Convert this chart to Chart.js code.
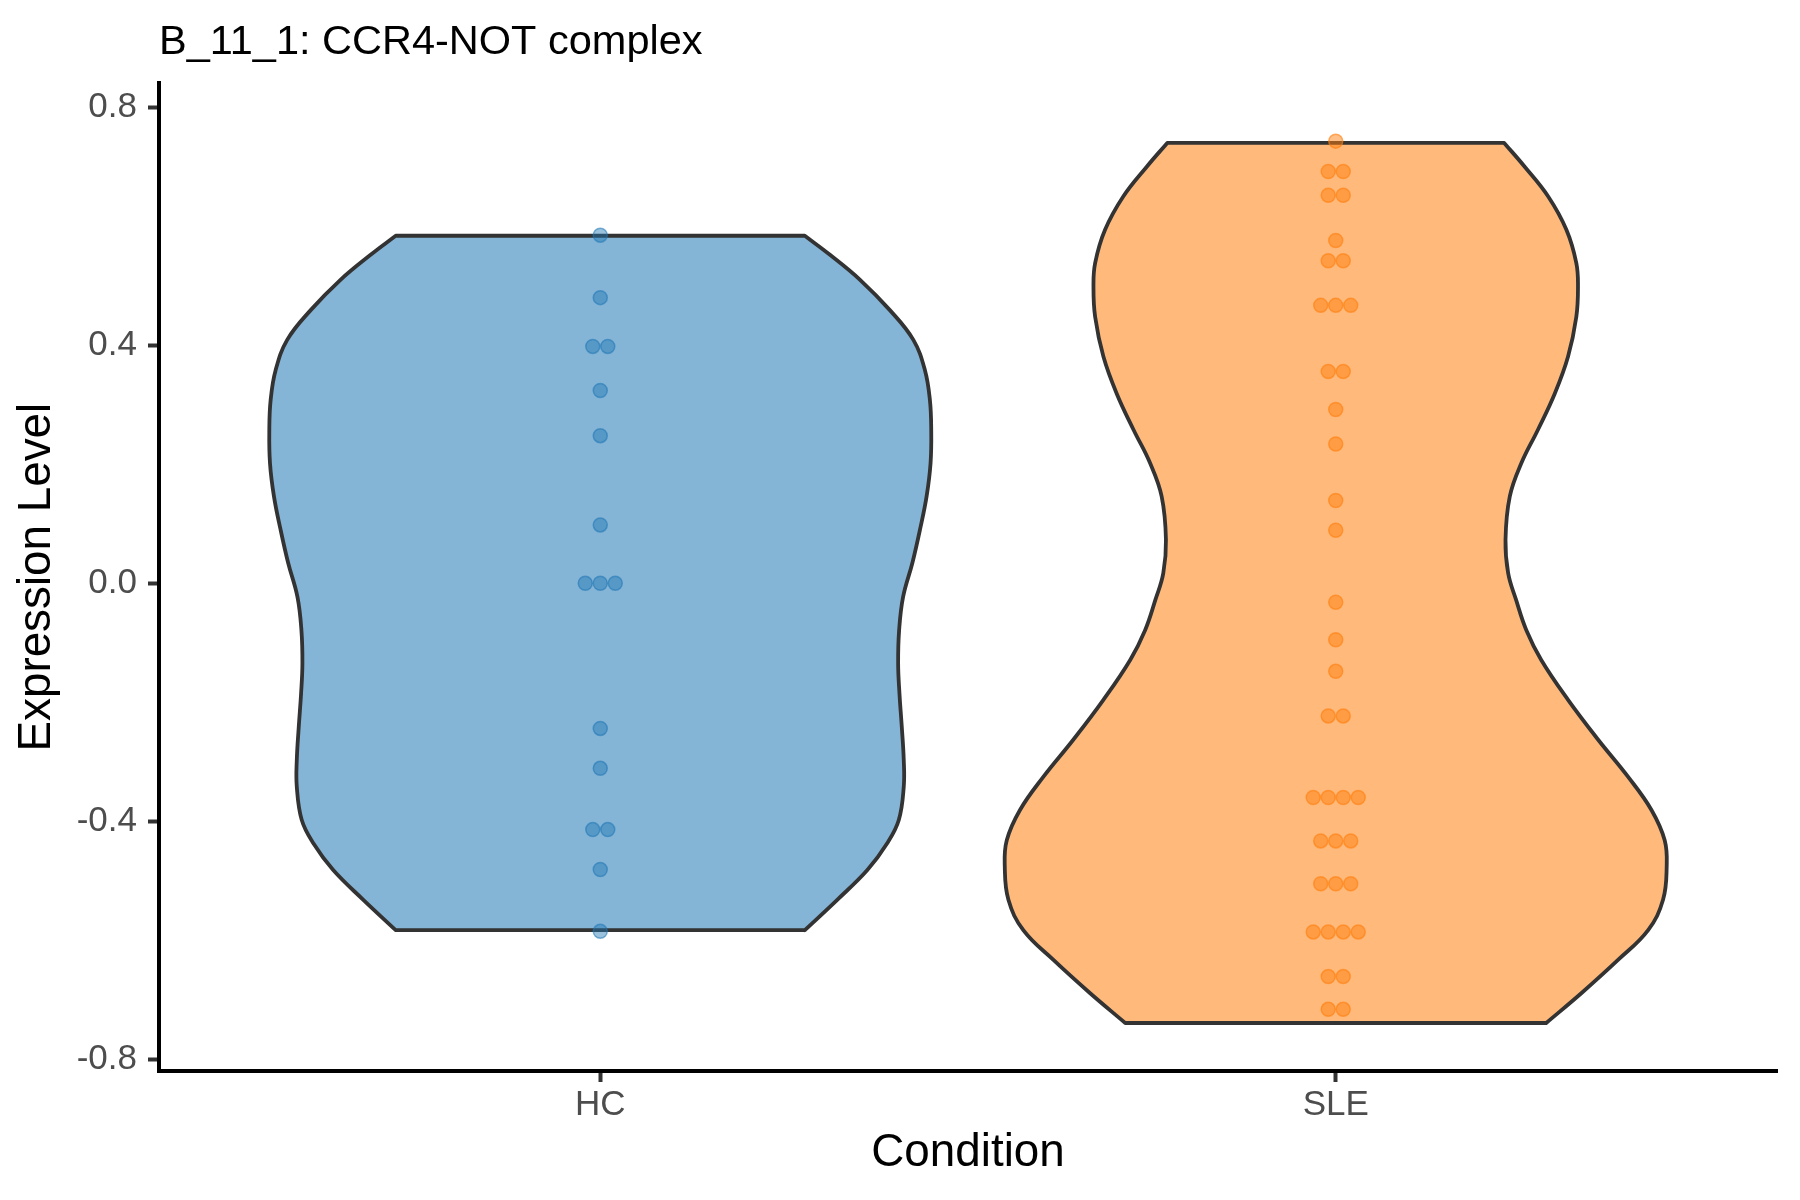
<!DOCTYPE html>
<html><head><meta charset="utf-8">
<script src="https://cdn.jsdelivr.net/npm/chart.js@4.4.0/dist/chart.umd.min.js"></script>
<style>html,body{margin:0;padding:0;background:#fff}canvas{display:block}</style>
</head><body>
<canvas id="c" width="1800" height="1200"></canvas>
<script>
// ---------- data ----------
const TITLE = 'B_11_1: CCR4-NOT complex';
const X_TITLE = 'Condition';
const Y_TITLE = 'Expression Level';
const CATEGORIES = ['HC', 'SLE'];
const Y_TICKS = [-0.8, -0.4, 0, 0.4, 0.8];
const Y_TICK_LABELS = ['-0.8', '-0.4', '0.0', '0.4', '0.8'];

// dot values (binned dotplot)
const HC_VALUES = [0.585, 0.48, 0.398, 0.398, 0.324, 0.248, 0.098, 0, 0, 0,
  -0.244, -0.311, -0.414, -0.414, -0.481, -0.585];
const SLE_VALUES = [0.743, 0.692, 0.692, 0.652, 0.652, 0.576, 0.542, 0.542,
  0.467, 0.467, 0.467, 0.356, 0.356, 0.292, 0.234, 0.139, 0.089, -0.032,
  -0.095, -0.148, -0.223, -0.223, -0.36, -0.36, -0.36, -0.36, -0.433, -0.433,
  -0.433, -0.505, -0.505, -0.505, -0.586, -0.586, -0.586, -0.586, -0.661,
  -0.661, -0.716, -0.716];

// violin density profiles (value, relative width 0..1), bottom to top
const HC_VIOLIN_Y = [-0.583, -0.532, -0.482, -0.437, -0.398, -0.342, -0.297, -0.241,
  -0.185, -0.135, -0.079, -0.023, 0.034, 0.090, 0.146, 0.202, 0.258, 0.308, 0.358,
  0.409, 0.459, 0.510, 0.552, 0.584];
const HC_VIOLIN_W = [0.618, 0.716, 0.807, 0.867, 0.902, 0.917, 0.917, 0.911,
  0.904, 0.900, 0.903, 0.915, 0.943, 0.966, 0.986, 0.998, 1.000, 0.996, 0.981,
  0.946, 0.875, 0.785, 0.694, 0.618];
const SLE_VIOLIN_Y = [-0.739, -0.689, -0.633, -0.583, -0.532, -0.476, -0.432, -0.381,
  -0.325, -0.263, -0.196, -0.129, -0.079, -0.028, 0.017, 0.073, 0.146, 0.202, 0.258,
  0.319, 0.381, 0.448, 0.498, 0.538, 0.594, 0.650, 0.700, 0.740];
const SLE_VIOLIN_W = [0.636, 0.742, 0.853, 0.944, 0.989, 1.000, 0.994, 0.954,
  0.883, 0.793, 0.702, 0.621, 0.576, 0.545, 0.521, 0.513, 0.526, 0.561, 0.611,
  0.662, 0.702, 0.727, 0.732, 0.727, 0.697, 0.642, 0.571, 0.509];

// ---------- styles ----------
const FONT = "'Liberation Sans', Arial, Helvetica, sans-serif";
const VIOLIN_HALF = 0.45;
const DOT_STEP = 0.0204;
const FILLS = ['rgba(31,119,180,0.55)', 'rgba(255,127,14,0.55)'];
const DOT_FILL = ['rgba(31,119,180,0.45)', 'rgba(255,127,14,0.5)'];
const DOT_EDGE = ['rgba(31,119,180,0.55)', 'rgba(255,127,14,0.6)'];

function violinPath(center, ys, ws) {
  const n = ys.length;
  const h = ws.map(w => w * VIOLIN_HALF);
  const pts = [];
  for (let i = 0; i < n; i++) pts.push({x: center + h[i], y: ys[i]});
  pts.push({x: center + h[n - 1], y: ys[n - 1]});
  for (let i = n - 1; i >= 0; i--) {
    pts.push({x: center - h[i], y: ys[i]});
    if (i === n - 1 || i === 0) pts.push({x: center - h[i], y: ys[i]});
  }
  pts.push({x: center + h[0], y: ys[0]});
  return pts;
}

function dotPoints(center, values) {
  const groups = new Map();
  values.forEach(v => {
    const k = v.toFixed(3);
    groups.set(k, (groups.get(k) || 0) + 1);
  });
  const pts = [];
  groups.forEach((cnt, k) => {
    const v = parseFloat(k);
    for (let j = 0; j < cnt; j++) {
      pts.push({x: center + (j - (cnt - 1) / 2) * DOT_STEP, y: v});
    }
  });
  return pts;
}

const violins = [[HC_VIOLIN_Y, HC_VIOLIN_W], [SLE_VIOLIN_Y, SLE_VIOLIN_W]];
const dots = [HC_VALUES, SLE_VALUES];
const datasets = [];
CATEGORIES.forEach((c, i) => {
  datasets.push({
    label: c + ' violin',
    data: violinPath(i + 1, violins[i][0], violins[i][1]),
    showLine: true,
    fill: 'shape',
    backgroundColor: FILLS[i],
    borderColor: '#333333',
    borderWidth: 3.8,
    tension: 0.4,
    borderJoinStyle: 'round',
    borderCapStyle: 'round',
    pointRadius: 0,
    order: 2
  });
});
CATEGORIES.forEach((c, i) => {
  datasets.push({
    label: c + ' dots',
    data: dotPoints(i + 1, dots[i]),
    showLine: false,
    fill: false,
    pointRadius: 7,
    pointBorderWidth: 1.5,
    pointBackgroundColor: DOT_FILL[i],
    pointBorderColor: DOT_EDGE[i],
    order: 1
  });
});

new Chart(document.getElementById('c'), {
  type: 'line',
  data: {datasets},
  options: {
    responsive: false,
    devicePixelRatio: 1,
    animation: false,
    events: [],
    layout: {padding: {left: 0, right: 23, top: 0, bottom: 0}},
    plugins: {
      legend: {display: false},
      tooltip: {enabled: false},
      title: {
        display: true, text: TITLE, align: 'start', fullSize: false,
        color: '#000000', font: {family: FONT, size: 41.5, weight: 'normal'},
        padding: {top: 18, bottom: 15.5}
      }
    },
    scales: {
      x: {
        type: 'linear', min: 0.4, max: 2.6,
        afterBuildTicks: s => { s.ticks = CATEGORIES.map((c, i) => ({value: i + 1})); },
        afterFit: s => { s.height = 129; },
        ticks: {
          callback: v => CATEGORIES[Math.round(v) - 1],
          font: {family: FONT, size: 35}, color: '#4D4D4D',
          padding: 2, maxRotation: 0, autoSkip: false
        },
        grid: {drawOnChartArea: false, drawTicks: true, tickLength: 11, tickWidth: 4, tickColor: '#333333'},
        border: {display: true, color: '#000000', width: 4},
        title: {display: true, text: X_TITLE, color: '#000000',
          font: {family: FONT, size: 45.8}, padding: {top: 0, bottom: 19.5}}
      },
      y: {
        type: 'linear', min: -0.8197, max: 0.8402,
        afterBuildTicks: s => { s.ticks = Y_TICKS.map(v => ({value: v})); },
        afterFit: s => { s.width = 159; },
        ticks: {
          callback: (v) => Y_TICK_LABELS[Y_TICKS.findIndex(t => Math.abs(t - v) < 1e-9)],
          font: {family: FONT, size: 35}, color: '#4D4D4D', padding: 11
        },
        grid: {drawOnChartArea: false, drawTicks: true, tickLength: 11, tickWidth: 4, tickColor: '#333333'},
        border: {display: true, color: '#000000', width: 4},
        title: {display: true, text: Y_TITLE, color: '#000000',
          font: {family: FONT, size: 45.8}, padding: {top: 10, bottom: 0}}
      }
    }
  }
});
</script>
</body></html>
